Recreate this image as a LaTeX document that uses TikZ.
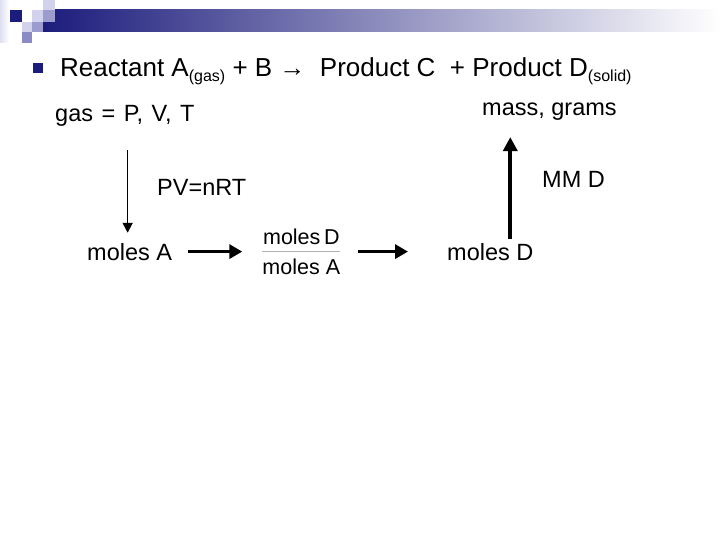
\documentclass[tikz,border=0pt]{standalone}
\usepackage{fontspec}
\setmainfont{Liberation Sans}
\usepackage{xcolor}
\usetikzlibrary{arrows.meta,positioning}
\definecolor{slidenavy}{RGB}{28,28,124}
\definecolor{tilelight}{RGB}{210,210,236}
\definecolor{tilemid}{RGB}{156,156,206}
\definecolor{tiledeep}{RGB}{138,138,196}
\newcommand{\subtxt}[1]{\raisebox{-5pt}{\fontsize{16}{16}\selectfont #1}}

\begin{document}
\begin{tikzpicture}[
    x=1pt, y=-1pt,
    font=\fontsize{23.5}{27}\selectfont,
    every node/.style={inner sep=0pt},
    lbl/.style={anchor=base west},
    thinarrow/.style={-{Triangle[length=10pt,width=10pt]}, line width=1.7pt},
    fatarrow/.style={-{Triangle[length=13pt,width=14pt]}, line width=3.5pt},
    uparrow/.style={-{Triangle[length=14pt,width=14pt]}, line width=4pt}
]
\useasboundingbox (0,0) rectangle (720,540);

% slide header
\fill[left color=tilelight!70, right color=white] (0,0) rectangle (9,43);
\fill[left color=slidenavy, right color=white] (43,10) rectangle (720,32);
\fill[slidenavy] (10,10) rectangle (22,22);
\fill[tilelight] (32,10) rectangle (43,22);
\fill[tilelight] (43,0) rectangle (55,10);
\fill[tilemid] (43,10) rectangle (55,22);
\fill[tilelight] (22,22) rectangle (32,32);
\fill[tilemid] (32,22) rectangle (43,32);
\fill[tiledeep] (22,32) rectangle (32,43);

% bullet line
\fill[slidenavy] (33,63) rectangle (43,73);
\node[lbl, font=\fontsize{26}{30}\selectfont] (title) at (60,77)
    {Reactant A\subtxt{(gas)} + B → \ Product C\ \ + Product D\subtxt{(solid)}};

\node[lbl] (gas) at (55,122) {gas\hspace{2pt} =\hspace{2pt} P,\hspace{2pt} V,\hspace{2pt} T};
\node[lbl] (mass) at (482,116) {mass, grams};
\node[lbl] (pv) at (157,196) {PV=nRT};
\node[lbl] (mmd) at (542,188) {MM D};
\node[lbl] (molesA) at (87,260) {moles A};
\node[right=90pt of molesA, align=center, font=\fontsize{21.5}{30}\selectfont] (frac) {moles\,D\\moles A};
\node[lbl] (molesD) at (447,260.7) {moles D};
\coordinate (rise) at ([xshift=20pt]molesD.north);

\draw[gray!60, line width=0.8pt] (frac.west) -- (frac.east);
\draw[thinarrow, shorten <=23pt, shorten >=10pt] ([xshift=-2pt]molesA.north |- gas.south) -- ([xshift=-2pt]molesA.north);
\draw[fatarrow, shorten <=16pt, shorten >=20pt] (molesA) -- (frac);
\draw[fatarrow, shorten <=18pt, shorten >=39pt] (frac.east) -- (frac.east -| molesD.west);
\draw[uparrow, shorten <=4pt, shorten >=16pt] (rise) -- (rise |- mass.south);
\end{tikzpicture}
\end{document}
